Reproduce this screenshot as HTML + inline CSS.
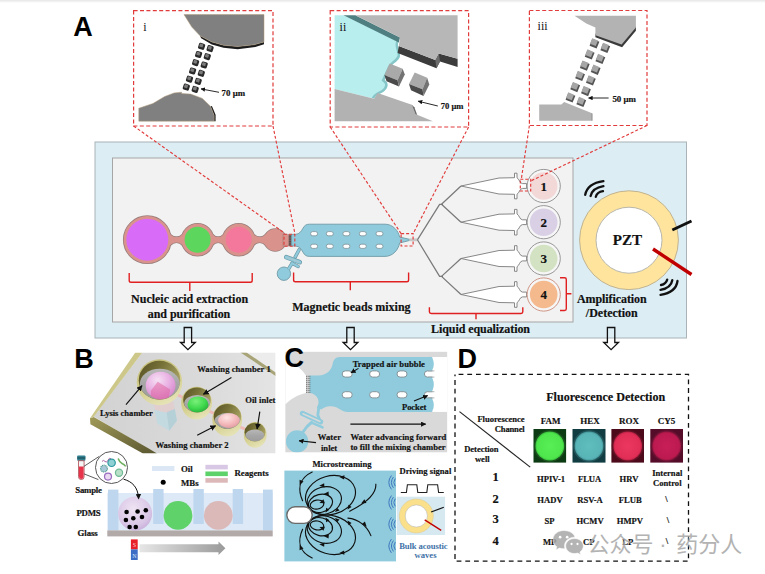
<!DOCTYPE html>
<html lang="en">
<head>
<meta charset="utf-8">
<title>Figure</title>
<style>
html,body{margin:0;padding:0;background:#fff;}
body{width:765px;height:574px;overflow:hidden;position:relative;}
svg{display:block;position:absolute;left:0;top:0;}
.sb{font-family:"Liberation Serif","Noto Serif CJK SC",serif;font-weight:bold;fill:#111;stroke:#111;stroke-width:0.18px;}
.s{font-family:"Liberation Serif","Noto Serif CJK SC",serif;fill:#111;}
.ab{font-family:"Liberation Sans","Noto Sans CJK SC",sans-serif;font-weight:bold;fill:#000;}
.wm{font-family:"Liberation Sans","Noto Sans CJK SC",sans-serif;}
</style>
</head>
<body>
<svg width="765" height="574" viewBox="0 0 765 574">
<defs>
<linearGradient id="topfade" x1="0" y1="0" x2="0" y2="1"><stop offset="0" stop-color="#e6e6e6"/><stop offset="1" stop-color="#ffffff"/></linearGradient>
<marker id="ah" viewBox="0 0 10 10" refX="9" refY="5" markerWidth="5" markerHeight="5" orient="auto-start-reverse"><path d="M0,0 L10,5 L0,10 z" fill="#111"/></marker>
<marker id="ah2" viewBox="0 0 10 10" refX="8" refY="5" markerWidth="5.5" markerHeight="5.5" orient="auto"><path d="M0,0 L10,5 L0,10 z" fill="#111"/></marker>
</defs>
<rect x="0" y="0" width="765" height="574" fill="#ffffff"/>
<rect x="0" y="0" width="765" height="3" fill="url(#topfade)"/>

<!-- ===== PANEL A main ===== -->
<g id="panelA">
<rect x="95" y="142" width="591.5" height="196" fill="#dcedf4" stroke="#a8b4b8" stroke-width="1"/>
<rect x="112.5" y="158" width="460.5" height="164" fill="#f2f2f2" stroke="#a6a6a6" stroke-width="1"/>
<!-- extraction chambers -->
<g stroke="#9a7f7c" stroke-width="1.6" fill="#d9938c">
<rect x="147" y="237.4" width="128" height="4.8"/>
<path d="M170.0,234.3 Q176.4,240.4 182.9,234.3 L182.9,245.3 Q176.4,239.2 170.0,245.3 Z M212.3,234.3 Q218.1,240.4 224.0,234.3 L224.0,245.3 Q218.1,239.2 212.3,245.3 Z M253.4,234.3 Q259.7,240.4 266.0,234.3 L266.0,245.3 Q259.7,239.2 253.4,245.3 Z"/>
<circle cx="147.3" cy="239.7" r="23.6"/>
<circle cx="197.6" cy="239.8" r="16"/>
<circle cx="238.7" cy="239.8" r="16"/>
<circle cx="275.2" cy="240" r="11"/>
</g>
<g fill="#d9938c">
<rect x="147" y="237.4" width="128" height="4.8"/>
<path d="M170.0,234.3 Q176.4,240.4 182.9,234.3 L182.9,245.3 Q176.4,239.2 170.0,245.3 Z M212.3,234.3 Q218.1,240.4 224.0,234.3 L224.0,245.3 Q218.1,239.2 212.3,245.3 Z M253.4,234.3 Q259.7,240.4 266.0,234.3 L266.0,245.3 Q259.7,239.2 253.4,245.3 Z"/>
<circle cx="147.3" cy="239.7" r="23.6"/>
<circle cx="197.6" cy="239.8" r="16"/>
<circle cx="238.7" cy="239.8" r="16"/>
<circle cx="275.2" cy="240" r="11"/>
</g>
<circle cx="147.3" cy="239.7" r="21" fill="#d86cf8"/>
<circle cx="197.6" cy="239.8" r="13" fill="#5cd65c"/>
<circle cx="238.7" cy="239.8" r="13" fill="#f4789c"/>
<!-- bead column between chamber 4 and mixing chamber -->
<path d="M283,234.2 L288.9,234.4 L288.9,246.1 L283,246.2 Z" fill="#d9938c" stroke="#9a7f7c" stroke-width="0.6"/>
<rect x="288.8" y="234.4" width="2.9" height="11.7" fill="#7c5e5c"/>
<g stroke="#4a3a3a" stroke-width="0.5"><line x1="288.8" y1="236.8" x2="291.7" y2="236.8"/><line x1="288.8" y1="239.2" x2="291.7" y2="239.2"/><line x1="288.8" y1="241.6" x2="291.7" y2="241.6"/><line x1="288.8" y1="244" x2="291.7" y2="244"/></g>
<!-- water inlet + serpentine -->
<g fill="none" stroke="#6f9aa6" stroke-linecap="round" stroke-linejoin="round">
<path d="M299,250 L295.3,256.8" stroke-width="3.6"/><path d="M286.2,257.2 L299.8,262.2" stroke-width="4.6"/><path d="M292,263.2 L298.2,266.5" stroke-width="3.4"/><path d="M292,263.4 L288.8,268.6" stroke-width="3.6"/>
</g>
<circle cx="283.9" cy="273.7" r="6.7" fill="#8fcbdc" stroke="#6f9aa6" stroke-width="0.9"/>
<g fill="none" stroke="#8fcbdc" stroke-linecap="round" stroke-linejoin="round">
<path d="M299,250 L295.3,256.8" stroke-width="2.2"/><path d="M286.2,257.2 L299.8,262.2" stroke-width="3.2"/><path d="M292,263.2 L298.2,266.5" stroke-width="2"/><path d="M292,263.4 L288.8,268.6" stroke-width="2.2"/>
</g>
<path d="M287,257.5 L299,261.9" stroke="#b8c4c8" stroke-width="0.8" stroke-linecap="round"/>
<!-- mixing chamber -->
<path d="M291.6,234.4 L295.5,234.4 C299.5,234.2 301.5,231 303,228.2 C304.5,225.5 306,224.2 309.5,224.2 L385,224.2 C393,224.2 398.5,231 399.6,237 L409.4,239.3 L409.4,240.5 L399.6,243 C398.5,249.5 393,256.4 385,256.4 L309.5,256.4 C306,256.4 304.5,255 303,252.2 C301.5,249.5 299.5,246.2 295.5,246 L291.6,246 Z" fill="#8fcbdc" stroke="#6f9aa6" stroke-width="0.9"/>
<g fill="#ffffff" stroke="#7d8f96" stroke-width="0.8">
<rect x="310.6" y="231.6" width="7" height="4.2" rx="2.1"/><rect x="326.3" y="231.6" width="7" height="4.2" rx="2.1"/><rect x="342.9" y="231.6" width="7" height="4.2" rx="2.1"/><rect x="359.3" y="231.6" width="7" height="4.2" rx="2.1"/><rect x="376" y="231.6" width="7" height="4.2" rx="2.1"/>
<rect x="310.6" y="244.2" width="7" height="4.2" rx="2.1"/><rect x="326.3" y="244.2" width="7" height="4.2" rx="2.1"/><rect x="342.9" y="244.2" width="7" height="4.2" rx="2.1"/><rect x="359.3" y="244.2" width="7" height="4.2" rx="2.1"/><rect x="376" y="244.2" width="7" height="4.2" rx="2.1"/>
</g>
<!-- outlet stub -->
<rect x="409.4" y="238.4" width="8" height="2.8" fill="#c8c8c8"/>
<!-- distribution tree -->
<g fill="none" stroke="#7a7a7a" stroke-width="1.25" stroke-linejoin="round">
<path d="M417.4,239.8 L439.6,204.3 L443,204.3 M417.4,239.8 L439.6,276.4 L443,276.4"/>
<path d="M441.5,204.3 L461,186 M441.5,204.3 L461,222.2 M441.5,276.4 L461,258.5 M441.5,276.4 L461,294.5"/>
</g>
<g fill="#ffffff" stroke="#7a7a7a" stroke-width="0.9" stroke-linejoin="round">
<path id="tear" d="M461,0 L499,-8 L514.5,-8.3 L514.5,-12.8 L517,-12.8 L517,-8.2 C519.5,-7 519.5,-2.6 522.5,-2.4 L526.6,-2.4 L526.6,2.4 L522.5,2.4 C519.5,2.6 519.5,7 517,8.2 L517,12.8 L514.5,12.8 L514.5,8.3 L499,8 Z" transform="translate(0,186)"/>
<use href="#tear" y="36.2"/>
<use href="#tear" y="72.5"/>
<use href="#tear" y="108.5"/>
</g>
<!-- detection wells -->
<g stroke="#8c8c8c" stroke-width="0.9" fill="#f6f6f6">
<circle cx="543.7" cy="186" r="16.6"/><circle cx="543.7" cy="222.2" r="16.6"/><circle cx="543.7" cy="258.5" r="16.6"/><circle cx="543.7" cy="294.5" r="16.6" stroke="#c98a78"/>
</g>
<circle cx="543.7" cy="186" r="13.8" fill="#f3d8d8"/>
<circle cx="543.7" cy="222.2" r="13.8" fill="#d9d0e6"/>
<circle cx="543.7" cy="258.5" r="13.8" fill="#d3e2c3"/>
<circle cx="543.7" cy="294.5" r="13.8" fill="#f5b98e"/>
<g class="sb" font-size="13" text-anchor="middle">
<text x="543.7" y="190.6">1</text><text x="543.7" y="226.8">2</text><text x="543.7" y="263.1">3</text><text x="543.7" y="299.1">4</text>
</g>
<!-- PZT -->
<circle cx="629" cy="240.2" r="49.4" fill="#ffe49e" stroke="#b9ad8c" stroke-width="0.9"/>
<circle cx="629" cy="240.2" r="33" fill="#ffffff" stroke="#b0b0a8" stroke-width="0.9"/>
<text class="sb" x="627.5" y="244.8" font-size="15" text-anchor="middle" textLength="29.4" lengthAdjust="spacingAndGlyphs">PZT</text>
<line x1="672.3" y1="230" x2="691.5" y2="221" stroke="#111" stroke-width="3"/>
<line x1="653" y1="249" x2="691.5" y2="274.5" stroke="#c00000" stroke-width="3.4"/>
<g fill="none" stroke="#111" stroke-width="2.3" stroke-linecap="round">
<path d="M585.2,194.8 Q587.5,183.5 603.4,181.2"/><path d="M590.6,196 Q592.5,188 603.4,186.2"/><path d="M595.8,196.8 Q597,192 603,191.1"/>
<path d="M677.5,281 Q676,292.5 660.5,294.8"/><path d="M672.3,280.2 Q671,288 660.5,289.8"/><path d="M667.2,279.6 Q666,284 661,285"/>
</g>
<!-- red brackets -->
<g fill="none" stroke="#e02020" stroke-width="1.4" stroke-linejoin="round">
<path d="M129.2,273 L129.2,280.5 Q129.2,282.3 131,282.3 L250.4,282.3 Q252.2,282.3 252.2,280.5 L252.2,273 M189.8,282.3 L189.8,291"/>
<path d="M293.6,272.6 L293.6,280 Q293.6,281.8 295.4,281.8 L406.8,281.8 Q408.6,281.8 408.6,280 L408.6,272.6 M350.3,281.8 L350.3,290.2"/>
<path d="M429.4,307.2 L429.4,311.8 Q429.4,313.5 431.2,313.5 L521,313.5 Q522.8,313.5 522.8,311.8 L522.8,307.2 M476,313.5 L476,319.2"/>
<path d="M560,277.8 L564.6,277.8 Q566.3,277.8 566.3,279.5 L566.3,308.8 Q566.3,310.5 564.6,310.5 L560,310.5 M566.3,293.8 L571.4,293.8"/>
</g>
<!-- labels -->
<g class="sb" font-size="12" text-anchor="middle" lengthAdjust="spacingAndGlyphs">
<text x="189.6" y="303.3" textLength="117">Nucleic acid extraction</text>
<text x="189" y="317.6" textLength="82.6">and purification</text>
<text x="351.4" y="310.8" textLength="118.3">Magnetic beads mixing</text>
<text x="480.5" y="332.6" textLength="99">Liquid equalization</text>
<text x="611.8" y="303.3" textLength="69.8">Amplification</text>
<text x="611.8" y="316.7" textLength="52">/Detection</text>
</g>
<!-- small dashed boxes + connector lines -->
<g fill="none" stroke="#e23b3b" stroke-width="1.15" stroke-dasharray="3 2">
<rect x="284" y="234.2" width="10.8" height="12"/>
<rect x="401.1" y="233.6" width="12" height="12.4"/>
<rect x="520.3" y="179.2" width="10.4" height="11.8"/>
<path d="M133.6,126 L284.4,233 M273,126 L294.8,233"/>
<path d="M330.2,127 L401.1,233.6 M468.6,127 L413.1,233.6"/>
<path d="M529.4,125.5 L521.3,179.2 M647,125.5 L530.7,181"/>
</g>
<!-- hollow arrows -->
<g fill="none" stroke="#111" stroke-width="1.3" stroke-linejoin="miter">
<path id="harr" d="M-3.7,0 L-3.7,15 L-7.4,15 L0,22.2 L7.4,15 L3.7,15 L3.7,0 Z" transform="translate(187.9,327.5)"/>
<use href="#harr" x="162.6"/>
<use href="#harr" x="423.2"/>
</g>

</g>

<!--A-BOXES-START-->
<g id="boxes">
<g fill="#ffffff" stroke="#e23b3b" stroke-width="1.2" stroke-dasharray="4 2.4">
<rect x="133.6" y="10.6" width="139.4" height="115.4"/>
<rect x="330.2" y="10.6" width="138.4" height="116.4"/>
<rect x="529.4" y="10.5" width="117.6" height="115"/>
</g>
<g id="box-i">
<path d="M264.0,41.9 L254.1,44.7 L237.6,46.6 L223.5,45.2 L211.8,41.9 L200.0,35.8 L201.2,38.2 L211.8,44.4 L223.5,47.7 L237.6,49.2 L255.3,47 L264.0,44.2 Z" fill="#1c1c1c"/>
<path d="M184.0,14.6 L264.0,14.6 L264.0,41.9 L254.1,44.7 L237.6,46.6 L223.5,45.2 L211.8,41.9 L200.0,35.8 L191.8,27.1 Z" fill="#808080" stroke="#b09a78" stroke-width="0.5"/>
<path d="M210.6,106.4 L214.1,115.3 L214.1,121.2 L215.6,121.2 L215.6,114.8 L211.9,105.9 Z" fill="#1c1c1c"/>
<path d="M138.8,108.2 L152.9,103.5 L164.7,96.5 L174.1,92.9 L181.6,92.2 L181.6,93.6 L190.6,94.1 L202.4,98.4 L210.6,106.4 L214.1,115.3 L214.1,121.2 L138.8,121.2 Z" fill="#808080" stroke="#b09a78" stroke-width="0.5"/>
<g transform="translate(201.6,46.3) rotate(18)"><rect x="-3.2" y="-3.1" width="6.4" height="6.2" rx="1.4" fill="#2a2a2a"/><rect x="-2.3" y="-2.4" width="3.5" height="3.3" rx="0.6" fill="#7c7c7c"/></g>
<g transform="translate(198.6,54.5) rotate(18)"><rect x="-3.2" y="-3.1" width="6.4" height="6.2" rx="1.4" fill="#2a2a2a"/><rect x="-2.3" y="-2.4" width="3.5" height="3.3" rx="0.6" fill="#7c7c7c"/></g>
<g transform="translate(195.6,62.7) rotate(18)"><rect x="-3.2" y="-3.1" width="6.4" height="6.2" rx="1.4" fill="#2a2a2a"/><rect x="-2.3" y="-2.4" width="3.5" height="3.3" rx="0.6" fill="#7c7c7c"/></g>
<g transform="translate(192.6,71) rotate(18)"><rect x="-3.2" y="-3.1" width="6.4" height="6.2" rx="1.4" fill="#2a2a2a"/><rect x="-2.3" y="-2.4" width="3.5" height="3.3" rx="0.6" fill="#7c7c7c"/></g>
<g transform="translate(189.5,79.2) rotate(18)"><rect x="-3.2" y="-3.1" width="6.4" height="6.2" rx="1.4" fill="#2a2a2a"/><rect x="-2.3" y="-2.4" width="3.5" height="3.3" rx="0.6" fill="#7c7c7c"/></g>
<g transform="translate(186.3,87.1) rotate(18)"><rect x="-3.2" y="-3.1" width="6.4" height="6.2" rx="1.4" fill="#2a2a2a"/><rect x="-2.3" y="-2.4" width="3.5" height="3.3" rx="0.6" fill="#7c7c7c"/></g>
<g transform="translate(210.1,48.6) rotate(18)"><rect x="-3.2" y="-3.1" width="6.4" height="6.2" rx="1.4" fill="#2a2a2a"/><rect x="-2.3" y="-2.4" width="3.5" height="3.3" rx="0.6" fill="#7c7c7c"/></g>
<g transform="translate(207.3,56.7) rotate(18)"><rect x="-3.2" y="-3.1" width="6.4" height="6.2" rx="1.4" fill="#2a2a2a"/><rect x="-2.3" y="-2.4" width="3.5" height="3.3" rx="0.6" fill="#7c7c7c"/></g>
<g transform="translate(204.2,65) rotate(18)"><rect x="-3.2" y="-3.1" width="6.4" height="6.2" rx="1.4" fill="#2a2a2a"/><rect x="-2.3" y="-2.4" width="3.5" height="3.3" rx="0.6" fill="#7c7c7c"/></g>
<g transform="translate(201.3,73.3) rotate(18)"><rect x="-3.2" y="-3.1" width="6.4" height="6.2" rx="1.4" fill="#2a2a2a"/><rect x="-2.3" y="-2.4" width="3.5" height="3.3" rx="0.6" fill="#7c7c7c"/></g>
<g transform="translate(198.2,81.4) rotate(18)"><rect x="-3.2" y="-3.1" width="6.4" height="6.2" rx="1.4" fill="#2a2a2a"/><rect x="-2.3" y="-2.4" width="3.5" height="3.3" rx="0.6" fill="#7c7c7c"/></g>
<g transform="translate(195.2,89.4) rotate(18)"><rect x="-3.2" y="-3.1" width="6.4" height="6.2" rx="1.4" fill="#2a2a2a"/><rect x="-2.3" y="-2.4" width="3.5" height="3.3" rx="0.6" fill="#7c7c7c"/></g>
<line x1="219" y1="92.3" x2="201" y2="88.9" stroke="#111" stroke-width="0.9" marker-end="url(#ah)"/>
<text class="sb" x="221.6" y="96.4" font-size="8.8" textLength="23.5" lengthAdjust="spacingAndGlyphs">70 μm</text>
<text class="s" x="143.2" y="30.6" font-size="12">i</text>
</g>
<g id="box-ii">
<clipPath id="cyclip"><path d="M334.6,15.3 L343.5,15.3 L398.8,41.2 C396,46 401,52 400,56 C399,61 393,63 390.6,67 L384.7,80 C389,83 388.5,88 383.5,91.8 C380,94 376,94.5 374.1,98.8 L334.6,88.9 Z"/></clipPath>
<path d="M334.6,15.3 L343.5,15.3 L398.8,41.2 C396,46 401,52 400,56 C399,61 393,63 390.6,67 L384.7,80 C389,83 388.5,88 383.5,91.8 C380,94 376,94.5 374.1,98.8 L334.6,88.9 Z" fill="#b9eeee"/>
<path d="M398.8,41.2 C396,46 401,52 400,56 C399,61 393,63 390.6,67 L384.7,80 C389,83 388.5,88 383.5,91.8 C380,94 376,94.5 374.1,98.8" fill="none" stroke="#86c6c8" stroke-width="5" clip-path="url(#cyclip)"/>
<path d="M343.5,15.3 L355.3,15.3 L400.0,37.6 L398.8,42.4 Z" fill="#4f7f80"/>
<path d="M398.8,45.9 L435.3,60.0 L438.8,53.6 L457.6,58.8 L457.6,67.1 L440.0,61.6 L436.5,68.2 L397.6,52.9 Z" fill="#3c3c3c"/>
<path d="M435.3,60.0 L438.8,53.6 L440,61.6 L436.5,68.2 Z" fill="#6c6c6c"/>
<path d="M355.3,15.3 L457.6,15.3 L457.6,58.8 L438.8,53.6 L435.3,60.0 L398.8,45.9 L400.0,37.6 Z" fill="#b7b7b7"/>
<path d="M334.6,88.9 L374.1,98.8 L377.6,92.9 L411.8,104.7 L415.3,114.1 L432.9,121.2 L334.6,121.2 Z" fill="#b2b2b2"/>
<path d="M411.8,104.7 L414.4,107.3 L417.2,115 L415.3,114.1 Z" fill="#6a6a6a"/>
<path d="M384.4,75.1 L389.6,63.6 L402.7,68.8 L397.5,80.3 Z" fill="#a9a9a9"/><path d="M384.4,75.1 L397.5,80.3 L399,86.6 L386.5,81.3 Z" fill="#4a4a4a"/><path d="M397.5,80.3 L402.7,68.8 L404.8,74.6 L399,86.6 Z" fill="#737373"/>
<path d="M409,84 L414.7,72.5 L427.2,77.7 L422.5,89.2 Z" fill="#a9a9a9"/><path d="M409,84 L422.5,89.2 L423.6,96 L411,90.2 Z" fill="#4a4a4a"/><path d="M422.5,89.2 L427.2,77.7 L429.3,84.5 L423.6,96 Z" fill="#737373"/>
<line x1="437.8" y1="106" x2="418.2" y2="101.2" stroke="#111" stroke-width="0.9" marker-end="url(#ah)"/>
<text class="sb" x="440.7" y="109.4" font-size="8.8" textLength="22.8" lengthAdjust="spacingAndGlyphs">70 μm</text>
<text class="s" x="339.6" y="30.6" font-size="12">ii</text>
</g>
<g id="box-iii">
<path d="M595.4,33.5 L621.6,43.1 L635.9,26.1 L635.9,30.8 L622.1,47.3 L595.4,37.3 Z" fill="#3a3a3a"/>
<path d="M574.5,15.7 L635.9,15.7 L635.9,27.5 L621.6,44.4 L595.4,35.3 L595.4,27.5 L586.3,23.5 Z" fill="#b3b3b3"/>
<path d="M539.2,104.6 L561.4,104.6 L564.1,102.0 L591.5,112.9 L591.5,120.8 L539.2,120.8 Z" fill="#b3b3b3"/>
<path d="M591.5,112.9 L592.4,113.6 L592.4,120.8 L591.5,120.8 Z" fill="#6a6a6a"/>
<g transform="translate(594.4,43.3) rotate(22)"><rect x="-3.6" y="-3.4" width="7.6" height="7.4" fill="#555555"/><rect x="-3.9" y="-3.9" width="6.2" height="6" fill="#a6a6a6"/></g>
<g transform="translate(589.6,54.4) rotate(22)"><rect x="-3.6" y="-3.4" width="7.6" height="7.4" fill="#555555"/><rect x="-3.9" y="-3.9" width="6.2" height="6" fill="#a6a6a6"/></g>
<g transform="translate(584.7,65.6) rotate(22)"><rect x="-3.6" y="-3.4" width="7.6" height="7.4" fill="#555555"/><rect x="-3.9" y="-3.9" width="6.2" height="6" fill="#a6a6a6"/></g>
<g transform="translate(580,75.9) rotate(22)"><rect x="-3.6" y="-3.4" width="7.6" height="7.4" fill="#555555"/><rect x="-3.9" y="-3.9" width="6.2" height="6" fill="#a6a6a6"/></g>
<g transform="translate(575.1,87) rotate(22)"><rect x="-3.6" y="-3.4" width="7.6" height="7.4" fill="#555555"/><rect x="-3.9" y="-3.9" width="6.2" height="6" fill="#a6a6a6"/></g>
<g transform="translate(570.4,97.4) rotate(22)"><rect x="-3.6" y="-3.4" width="7.6" height="7.4" fill="#555555"/><rect x="-3.9" y="-3.9" width="6.2" height="6" fill="#a6a6a6"/></g>
<g transform="translate(605.2,47.8) rotate(22)"><rect x="-3.6" y="-3.4" width="7.6" height="7.4" fill="#555555"/><rect x="-3.9" y="-3.9" width="6.2" height="6" fill="#a6a6a6"/></g>
<g transform="translate(600.3,58.9) rotate(22)"><rect x="-3.6" y="-3.4" width="7.6" height="7.4" fill="#555555"/><rect x="-3.9" y="-3.9" width="6.2" height="6" fill="#a6a6a6"/></g>
<g transform="translate(595.6,69.7) rotate(22)"><rect x="-3.6" y="-3.4" width="7.6" height="7.4" fill="#555555"/><rect x="-3.9" y="-3.9" width="6.2" height="6" fill="#a6a6a6"/></g>
<g transform="translate(590.8,80.4) rotate(22)"><rect x="-3.6" y="-3.4" width="7.6" height="7.4" fill="#555555"/><rect x="-3.9" y="-3.9" width="6.2" height="6" fill="#a6a6a6"/></g>
<g transform="translate(585.9,91) rotate(22)"><rect x="-3.6" y="-3.4" width="7.6" height="7.4" fill="#555555"/><rect x="-3.9" y="-3.9" width="6.2" height="6" fill="#a6a6a6"/></g>
<g transform="translate(581.2,101.9) rotate(22)"><rect x="-3.6" y="-3.4" width="7.6" height="7.4" fill="#555555"/><rect x="-3.9" y="-3.9" width="6.2" height="6" fill="#a6a6a6"/></g>
<line x1="608.6" y1="98" x2="588.6" y2="98" stroke="#111" stroke-width="0.9" marker-end="url(#ah)"/>
<text class="sb" x="612.4" y="102" font-size="8.8" textLength="23.6" lengthAdjust="spacingAndGlyphs">50 μm</text>
<text class="s" x="537.6" y="30.2" font-size="12">iii</text>
</g>
</g>
<!--A-BOXES-END-->

<!--PANEL-B-START-->
<g id="panelB">
<defs>
<clipPath id="bclip"><rect x="88" y="352.4" width="187.6" height="101"/></clipPath>
<linearGradient id="slab" x1="0" y1="0" x2="1" y2="0"><stop offset="0" stop-color="#d2d2d2"/><stop offset="0.6" stop-color="#dadada"/><stop offset="1" stop-color="#e4e4e4"/></linearGradient>
<linearGradient id="olive" x1="0" y1="0" x2="1" y2="0.5"><stop offset="0" stop-color="#565024"/><stop offset="0.5" stop-color="#777238"/><stop offset="1" stop-color="#a8a264"/></linearGradient>
<linearGradient id="khaki" x1="0.2" y1="0" x2="0.6" y2="1"><stop offset="0" stop-color="#c4bd78"/><stop offset="0.6" stop-color="#d6d192"/><stop offset="1" stop-color="#e6e3b8"/></linearGradient>
<linearGradient id="floor" x1="0" y1="0" x2="0" y2="1"><stop offset="0" stop-color="#b8b8b8"/><stop offset="0.5" stop-color="#a6a6a6"/><stop offset="1" stop-color="#9c9c9c"/></linearGradient>
<linearGradient id="front" x1="0" y1="0" x2="1" y2="1"><stop offset="0" stop-color="#a09a58"/><stop offset="1" stop-color="#5a5630"/></linearGradient>
<radialGradient id="sphM" cx="0.4" cy="0.3" r="0.75"><stop offset="0" stop-color="#f6e0f4"/><stop offset="0.55" stop-color="#e8aee2"/><stop offset="1" stop-color="#d484c8"/></radialGradient>
<radialGradient id="sphG" cx="0.4" cy="0.3" r="0.75"><stop offset="0" stop-color="#7af07a"/><stop offset="0.6" stop-color="#3ed84c"/><stop offset="1" stop-color="#28a838"/></radialGradient>
<radialGradient id="sphP" cx="0.4" cy="0.3" r="0.75"><stop offset="0" stop-color="#fde4e4"/><stop offset="0.6" stop-color="#f4b8ba"/><stop offset="1" stop-color="#e09a9e"/></radialGradient>
<radialGradient id="sphV" cx="0.45" cy="0.35" r="0.7"><stop offset="0" stop-color="#efe4f3"/><stop offset="0.7" stop-color="#d9c6e6"/><stop offset="1" stop-color="#c6acd8"/></radialGradient>
<linearGradient id="garr" x1="0" y1="0" x2="1" y2="0"><stop offset="0" stop-color="#e6e6e6"/><stop offset="1" stop-color="#9a9a9a"/></linearGradient>
</defs>
<g clip-path="url(#bclip)">
<!-- background beyond slab (upper right) -->
<path d="M240,352.4 L275.6,352.4 L275.6,380 Z" fill="#ececec"/>
<!-- slab top face -->
<path d="M142.1,352.4 L245,352.4 L275.6,374 L275.6,453.4 L156,453.4 L93.6,416.6 Z" fill="url(#slab)"/>
<!-- right olive edge -->
<path d="M240.5,352.4 L246.5,352.4 L275.6,372.4 L275.6,376 Z" fill="#a8a478"/>
<!-- left light strip -->
<path d="M135.3,352.4 L142.3,352.4 L93.8,416.8 L90,418.2 Z" fill="#cdc88a"/>
<!-- front dark band -->
<path d="M90,418.2 L93.8,417.1 L149.1,448.8 L157,453.4 L143,453.4 L90.4,424.2 Z" fill="url(#front)"/>
<!-- pink channels between chambers -->
<g stroke="#f2b4b0" stroke-width="3" opacity="0.85"><line x1="176" y1="394" x2="186" y2="399"/><line x1="207" y1="410" x2="218" y2="415.5"/><line x1="238" y1="426" x2="247" y2="430"/></g>
<!-- translucent pillar -->
<path d="M152.9,403 L173.1,401 L176.9,420.7 L169.2,430.7 L157.3,423.6 Z" fill="#c4dae1"/>
<path d="M166.5,411 L174.8,408.5 L176.9,420.7 L169.2,430.7 Z" fill="#b6d0d8"/>
<path d="M152.9,403 L173.1,401 L174.8,409 L166,412.5 L155,410 Z" fill="#e6cccc" opacity="0.85"/>
<!-- chambers -->
<clipPath id="hc-ly"><ellipse cx="159.5" cy="380.2" rx="20.8" ry="19.5"/></clipPath>
<ellipse cx="159.5" cy="382.3" rx="22.7" ry="23" fill="url(#khaki)"/>
<ellipse cx="159.5" cy="380.2" rx="20.8" ry="19.5" fill="url(#olive)"/>
<g clip-path="url(#hc-ly)">
<ellipse cx="159.8" cy="384.1" rx="20" ry="15.4" fill="url(#floor)"/>
<ellipse cx="160.6" cy="385.4" rx="14.9" ry="13.6" fill="url(#sphM)"/>
<path d="M157.7,381.8 L170.2,389.6 L168.7,398 L159,401 L150.9,395.9 L150.9,390.7 Z" fill="#e0609c" opacity="0.5"/>
</g>
<clipPath id="hc-w1"><ellipse cx="197.0" cy="399.9" rx="13.8" ry="12.5"/></clipPath>
<ellipse cx="196.6" cy="403.1" rx="15.4" ry="16.4" fill="url(#khaki)"/>
<ellipse cx="197.0" cy="399.9" rx="13.8" ry="12.5" fill="url(#olive)"/>
<g clip-path="url(#hc-w1)">
<ellipse cx="197.2" cy="403.6" rx="13" ry="8.7" fill="url(#floor)"/>
<ellipse cx="198" cy="404.6" rx="10.5" ry="8.2" fill="url(#sphG)"/>
</g>
<clipPath id="hc-w2"><ellipse cx="227.4" cy="416.5" rx="13.7" ry="12.5"/></clipPath>
<ellipse cx="227.2" cy="419.8" rx="14.9" ry="16.6" fill="url(#khaki)"/>
<ellipse cx="227.4" cy="416.5" rx="13.7" ry="12.5" fill="url(#olive)"/>
<g clip-path="url(#hc-w2)">
<ellipse cx="227.4" cy="421" rx="13" ry="7.9" fill="url(#floor)"/>
<ellipse cx="228.9" cy="420.6" rx="10.8" ry="7.4" fill="url(#sphP)"/>
</g>
<clipPath id="hc-oi"><ellipse cx="255" cy="432.2" rx="10.4" ry="9.4"/></clipPath>
<ellipse cx="255.2" cy="434.9" rx="11.4" ry="12.8" fill="url(#khaki)"/>
<ellipse cx="255" cy="432.2" rx="10.4" ry="9.4" fill="url(#olive)"/>
<g clip-path="url(#hc-oi)">
<ellipse cx="254.8" cy="435.5" rx="9.6" ry="6" fill="url(#floor)"/>
</g>
</g>
<!-- labels + arrows -->
<g stroke="#111" stroke-width="1.15" fill="none">
<line x1="126" y1="404.7" x2="142" y2="385.6" marker-end="url(#ah)"/>
<line x1="231.4" y1="377.5" x2="203.4" y2="394.3" marker-end="url(#ah)"/>
<line x1="197.2" y1="435.2" x2="215.6" y2="425.8" marker-end="url(#ah)"/>
<line x1="259.8" y1="411.7" x2="257.1" y2="429" marker-end="url(#ah)"/>
</g>
<g class="sb" font-size="8.6" lengthAdjust="spacingAndGlyphs">
<text x="197.2" y="371.5" textLength="73.6">Washing chamber 1</text>
<text x="99.9" y="415.9" textLength="53">Lysis chamber</text>
<text x="155.4" y="447.5" textLength="73.2">Washing chamber 2</text>
<text x="245.2" y="402.6" textLength="30.2">Oil inlet</text>
</g>

<!-- ===== lower schematic ===== -->
<!-- sample tube -->
<rect x="77.2" y="455.5" width="8.2" height="5.2" rx="0.8" fill="#2f7f8f"/>
<rect x="77.2" y="457.4" width="8.2" height="1.2" fill="#1d4f5a"/>
<path d="M78.5,460.7 L84.1,460.7 L84.1,476.8 A2.8,2.8 0 0 1 78.5,476.8 Z" fill="#f4f4f4" stroke="#a03038" stroke-width="0.7"/>
<path d="M79,466.6 L83.6,466.6 L83.6,476.8 A2.3,2.3 0 0 1 79,476.8 Z" fill="#e8344a"/>
<!-- magnifier -->
<line x1="83.9" y1="466.4" x2="99.2" y2="456.4" stroke="#333" stroke-width="0.8"/>
<line x1="83.9" y1="473.8" x2="98.4" y2="479.6" stroke="#333" stroke-width="0.8"/>
<circle cx="111.5" cy="467.5" r="16" fill="#ffffff" stroke="#444" stroke-width="0.9"/>
<path d="M102,461.4 q1.5,-2 3,0 t3,-1.2 t3,-1.4" fill="none" stroke="#b064a8" stroke-width="1"/>
<circle cx="111.6" cy="462.8" r="3.7" fill="#8fd0d4" stroke="#2f9aa0" stroke-width="1.2"/>
<circle cx="104" cy="468.6" r="3.4" fill="#a8c8d8" stroke="#4f9a8c" stroke-width="1.2" stroke-dasharray="1 0.7"/>
<circle cx="119" cy="472.8" r="3.6" fill="#b8e0c8" stroke="#6fba94" stroke-width="1.2"/>
<circle cx="108" cy="476.6" r="3.5" fill="#ead8f0" stroke="#9a6cc0" stroke-width="1.2"/>
<path d="M118.4,459 q1.2,3.4 3.6,4.4 t3.2,2.4" fill="none" stroke="#6fb060" stroke-width="1.6" stroke-linecap="round"/>
<!-- legend -->
<rect x="152" y="466" width="22.4" height="5" fill="#dbe7f4"/>
<circle cx="163.2" cy="482.2" r="2.5" fill="#000"/>
<rect x="205.4" y="464.8" width="22.4" height="4.6" fill="#d8c8e6"/>
<rect x="205.4" y="471.5" width="22.4" height="4.6" fill="#5cd268"/>
<rect x="205.4" y="478.1" width="22.4" height="4.6" fill="#dcb8b8"/>
<g class="sb" font-size="8.8" lengthAdjust="spacingAndGlyphs">
<text x="181" y="472.4">Oil</text>
<text x="181" y="485.6">MBs</text>
<text x="234.4" y="475.6">Reagents</text>
<text x="75.2" y="493.4" textLength="26.8">Sample</text>
<text x="76.5" y="515.6" textLength="24.2">PDMS</text>
<text x="77.5" y="536.4" textLength="20.3">Glass</text>
</g>
<!-- PDMS channel -->
<rect x="107.3" y="493" width="165.4" height="37.4" fill="#dde9f6"/>
<g fill="#bed6ee">
<rect x="108" y="489.6" width="10.4" height="40.8"/>
<rect x="153.2" y="489" width="10.4" height="35"/>
<rect x="193.4" y="489" width="10.4" height="35"/>
<rect x="232.7" y="489" width="10.4" height="35"/>
<rect x="263" y="489.6" width="9.7" height="40.8"/>
</g>
<rect x="107.3" y="530.4" width="165.4" height="6" fill="#b2a9a9"/>
<circle cx="135.1" cy="513.6" r="17" fill="url(#sphV)"/>
<circle cx="178" cy="515.4" r="14.4" fill="#60d26a"/>
<circle cx="218.3" cy="515.4" r="14.4" fill="#dcb9b9"/>
<g fill="#000">
<circle cx="126.6" cy="512" r="2.3"/><circle cx="137.6" cy="511.5" r="2.3"/><circle cx="145.8" cy="510.3" r="2.3"/><circle cx="125.9" cy="520" r="2.3"/><circle cx="133.3" cy="518.2" r="2.3"/><circle cx="142" cy="517" r="2.3"/><circle cx="129.6" cy="527" r="2.3"/><circle cx="135.8" cy="527" r="2.3"/>
</g>
<!-- curved arrow -->
<path d="M123.6,479.2 C132,481.5 138,487 138.6,498.4" fill="none" stroke="#111" stroke-width="1" marker-end="url(#ah2)"/>
<!-- magnet -->
<rect x="130.9" y="539.4" width="6.8" height="10" fill="#e8202a"/>
<rect x="130.9" y="549.4" width="6.8" height="10.6" fill="#3c6cc4"/>
<text x="134.3" y="547.2" font-size="6" text-anchor="middle" class="s" style="fill:#f8d8d8">S</text>
<text x="134.3" y="557.6" font-size="6" text-anchor="middle" class="s" style="fill:#d8e4f8">N</text>
<!-- gray arrow -->
<path d="M139.5,544.3 L218.5,544.3 L218.5,541.6 L225.4,548.3 L218.5,555 L218.5,552.3 L139.5,552.3 Z" fill="url(#garr)"/>
</g>
<!--PANEL-B-END-->

<!--PANEL-C-START-->
<g id="panelC">
<defs>
<clipPath id="cclip"><rect x="285.2" y="351.6" width="162.2" height="101"/></clipPath>
<marker id="ahs" viewBox="0 0 10 10" refX="9" refY="5" markerWidth="4.6" markerHeight="4.6" orient="auto"><path d="M0,0 L10,5 L0,10 z" fill="#111"/></marker>
</defs>
<g clip-path="url(#cclip)">
<rect x="285.2" y="351.6" width="162.2" height="101" fill="#d9d9d9"/>
<!-- empty previous chamber (white) -->
<path d="M285.2,360.5 C293,362.5 300.5,367.5 306,375.4 L306,393 C298,394.5 291,399 285.2,404.4 Z" fill="#ffffff"/>
<!-- water filled chamber -->
<path d="M309.6,375.4 L318,375.4 C327,375.4 331.5,370 332.6,364 C333.2,360.5 335,357 340,357 L432.4,357 L432.4,411.9 L347,411.9 C340,411 338,406.2 331,406.2 C326,406.2 323.5,407.5 321.5,409.5 L316.8,408 C319.5,404 319,399 316,396 C314,394 312,393.2 309.6,393 Z" fill="#8fcbdc"/>
<!-- bead column -->
<g stroke="#444" stroke-width="0.8" stroke-dasharray="1 1"><line x1="306.6" y1="375.8" x2="306.6" y2="392.8"/><line x1="308.2" y1="375.8" x2="308.2" y2="392.8"/><line x1="309.8" y1="375.8" x2="309.8" y2="392.8"/></g>
<!-- serpentine inlet channel -->
<g fill="none" stroke-linecap="round" stroke-linejoin="round">
<path d="M319,406 L317.8,415 L320.5,422" stroke="#8fcbdc" stroke-width="2.8"/>
<path d="M302.4,413.4 L320.6,421.8" stroke="#8fcbdc" stroke-width="5.2"/>
<path d="M311.5,422.6 L322.6,427.4" stroke="#8fcbdc" stroke-width="2.4"/>
<path d="M311.5,422.4 C308.5,424.5 305.5,428 303,432" stroke="#8fcbdc" stroke-width="3"/>
<path d="M303,413.7 L320,421.5" stroke="#d9d9d9" stroke-width="1.5"/>
</g>
<circle cx="297.1" cy="441.4" r="11.1" fill="#8fcbdc"/>
<!-- air bubbles / pockets -->
<g fill="#ffffff" stroke="#87949a" stroke-width="1">
<rect x="342.2" y="370.9" width="10" height="6.2" rx="3.1"/><rect x="369.6" y="370.9" width="10" height="6.2" rx="3.1"/><rect x="397" y="370.9" width="10" height="6.2" rx="3.1"/><rect x="424.4" y="370.9" width="14" height="6.2" rx="3.1"/>
<rect x="342.2" y="391.7" width="10" height="6.2" rx="3.1"/><rect x="369.6" y="391.7" width="10" height="6.2" rx="3.1"/><rect x="397" y="391.7" width="10" height="6.2" rx="3.1"/><rect x="424.4" y="391.7" width="14" height="6.2" rx="3.1"/>
</g>
<rect x="432.4" y="357" width="15.2" height="54.9" fill="#ffffff"/>
<g fill="#8fcbdc"><ellipse cx="430" cy="364" rx="3.8" ry="7.2"/><ellipse cx="430" cy="384.4" rx="3.8" ry="7.4"/><ellipse cx="430" cy="405" rx="3.8" ry="7"/></g>
<g stroke="#9aa4a8" stroke-width="0.8"><path d="M428,370.9 L434.4,370.9 M428,377.1 L434.4,377.1 M428,391.7 L434.4,391.7 M428,397.9 L434.4,397.9"/></g>
</g>
<!-- arrows + text -->
<g stroke="#111" stroke-width="1.1" fill="none">
<line x1="358.5" y1="368.4" x2="351" y2="372.8" marker-end="url(#ahs)"/>
<line x1="414" y1="401" x2="427.6" y2="395.6" marker-end="url(#ahs)"/>
<line x1="350.4" y1="424.1" x2="425.6" y2="424.1" marker-end="url(#ahs)"/>
<line x1="316" y1="442.6" x2="299" y2="440.8" marker-end="url(#ahs)"/>
</g>
<g class="sb" font-size="8.6" lengthAdjust="spacingAndGlyphs">
<text x="352.7" y="366.9" textLength="72.2">Trapped air bubble</text>
<text x="402" y="409.7" textLength="24.4">Pocket</text>
<text x="350.4" y="439.6" textLength="95.9">Water advancing forward</text>
<text x="350.4" y="450.3" textLength="95.2">to fill the mixing chamber</text>
<text x="317.8" y="440.3" textLength="23.2">Water</text>
<text x="321" y="450.8" textLength="16.2">inlet</text>
<text x="312.4" y="467" textLength="59.2">Microstreaming</text>
<text x="399.5" y="474.4" textLength="51.8">Driving signal</text>
</g>
<!-- microstreaming panel -->
<rect x="284.4" y="470.6" width="111.6" height="90.8" fill="#8fcbdc"/>
<!--STREAM-START-->
<g fill="none" stroke="#111" stroke-width="1.15" stroke-linecap="round">
<g id="strm">
<ellipse cx="317.0" cy="504.6" rx="6.8" ry="4.5" transform="rotate(-10 317.0 504.6)"/>
<ellipse cx="320.5" cy="503.3" rx="12.2" ry="8.9" transform="rotate(-14 320.5 503.3)"/>
<ellipse cx="324.3" cy="500.5" rx="17.4" ry="13.5" transform="rotate(-16 324.3 500.5)"/>
<ellipse cx="330.5" cy="495.2" rx="25.4" ry="19.2" transform="rotate(-16 330.5 495.2)"/>
<path d="M2.5,0 L-2.5,2.125 L-2.5,-2.125 Z" transform="translate(321.8,502.1) rotate(160)" fill="#111" stroke="none"/>
<path d="M2.5,0 L-2.5,2.125 L-2.5,-2.125 Z" transform="translate(321.8,485.6) rotate(175)" fill="#111" stroke="none"/>
<path d="M2.5,0 L-2.5,2.125 L-2.5,-2.125 Z" transform="translate(326.2,493.9) rotate(175)" fill="#111" stroke="none"/>
<path d="M2.5,0 L-2.5,2.125 L-2.5,-2.125 Z" transform="translate(341.8,477.2) rotate(185)" fill="#111" stroke="none"/>
<path d="M2.2,0 L-2.2,1.87 L-2.2,-1.87 Z" transform="translate(348.8,507.7) rotate(125)" fill="#111" stroke="none"/>
<path d="M2.2,0 L-2.2,1.87 L-2.2,-1.87 Z" transform="translate(336.6,510.6) rotate(140)" fill="#111" stroke="none"/>
<path d="M2.2,0 L-2.2,1.87 L-2.2,-1.87 Z" transform="translate(326.7,510.6) rotate(120)" fill="#111" stroke="none"/>
<path d="M312.2,472.0 C297.4,478.9 298.3,491.1 302.6,500.7"/>
<path d="M2.5,0 L-2.5,2.125 L-2.5,-2.125 Z" transform="translate(300.6,482.9) rotate(112)" fill="#111" stroke="none"/>
</g>
<use href="#strm" transform="translate(0,1030.0) scale(1,-1)"/>
<path d="M375.8,484.2 C376.7,494.6 363.6,504.2 349.7,511.2"/>
<path d="M2.5,0 L-2.5,2.125 L-2.5,-2.125 Z" transform="translate(363.3,502.3) rotate(150)" fill="#111" stroke="none"/>
<path d="M347.9,518.1 C358.4,519.0 367.1,526.0 370.9,535.6"/>
<path d="M2.5,0 L-2.5,2.125 L-2.5,-2.125 Z" transform="translate(365.0,524.8) rotate(48)" fill="#111" stroke="none"/>
</g>
<!--STREAM-END-->
<rect x="286.8" y="506.8" width="25.4" height="16.6" rx="8.3" fill="#ffffff" stroke="#6a6a6a" stroke-width="1.4"/>
<!-- acoustic arcs -->
<g fill="none" stroke="#3f78c0" stroke-width="1" stroke-linecap="round">
<g id="arcs"><path d="M391.2,475.8 Q386.2,482.4 391.2,489"/><path d="M393.2,477.3 Q389.4,482.4 393.2,487.5"/><path d="M395,478.9 Q392.4,482.4 395,485.9"/></g>
<use href="#arcs" y="20.1"/><use href="#arcs" y="41.8"/><use href="#arcs" y="63.6"/>
</g>
<!-- square wave -->
<path d="M400.8,492.5 L406.4,492.5 L407.4,484.7 L416.8,484.7 L417.8,492.5 L426.8,492.5 L427.8,484.7 L437.6,484.7 L438.6,492.5 L443.8,492.5" fill="none" stroke="#222" stroke-width="1.1"/>
<!-- mini PZT -->
<rect x="396.7" y="496.7" width="48.4" height="38.3" fill="#d6e9f1"/>
<circle cx="416.3" cy="516" r="17" fill="#fbe08c" stroke="#d8c890" stroke-width="0.5"/>
<circle cx="416.3" cy="516" r="11.1" fill="#ffffff" stroke="#b8b8b0" stroke-width="0.6"/>
<line x1="431.1" y1="512" x2="443.8" y2="507.3" stroke="#111" stroke-width="1.2"/>
<line x1="424.7" y1="519.9" x2="441.2" y2="530.3" stroke="#c00000" stroke-width="1.4"/>
<g font-size="8.6" lengthAdjust="spacingAndGlyphs" font-family="'Liberation Serif',serif" font-weight="bold" fill="#3f72a8">
<text x="399.2" y="548.9" textLength="48.4">Bulk acoustic</text>
<text x="414.6" y="558" textLength="21.9">waves</text>
</g>
</g>
<!--PANEL-C-END-->

<!--PANEL-D-START-->
<g id="panelD">
<defs>
<radialGradient id="fG" cx="0.5" cy="0.5" r="0.5"><stop offset="0" stop-color="#58ee56"/><stop offset="0.88" stop-color="#4ee64c"/><stop offset="1" stop-color="#38c03c"/></radialGradient>
<radialGradient id="fC" cx="0.5" cy="0.5" r="0.5"><stop offset="0" stop-color="#60bebe"/><stop offset="0.88" stop-color="#58b4b6"/><stop offset="1" stop-color="#44969a"/></radialGradient>
<radialGradient id="fR" cx="0.5" cy="0.5" r="0.5"><stop offset="0" stop-color="#ec3860"/><stop offset="0.88" stop-color="#e02e56"/><stop offset="1" stop-color="#b82044"/></radialGradient>
<radialGradient id="fM" cx="0.5" cy="0.5" r="0.5"><stop offset="0" stop-color="#c81e58"/><stop offset="0.88" stop-color="#bc1a50"/><stop offset="1" stop-color="#9a1540"/></radialGradient>
</defs>
<rect x="455" y="374.4" width="233.5" height="186.8" fill="#ffffff" stroke="#111" stroke-width="1.3" stroke-dasharray="4.8 3.9" stroke-dashoffset="-3.6"/>
<text class="sb" x="605.7" y="401.1" font-size="12.2" text-anchor="middle" textLength="119" lengthAdjust="spacingAndGlyphs">Fluorescence Detection</text>
<line x1="459.5" y1="411.6" x2="530.2" y2="467.1" stroke="#222" stroke-width="1.15"/>
<g class="sb" font-size="8.6" lengthAdjust="spacingAndGlyphs">
<text x="524.7" y="421.8" text-anchor="end" textLength="47.3">Fluorescence</text>
<text x="524.7" y="432.2" text-anchor="end" textLength="29.9">Channel</text>
<text x="481.4" y="452.2" text-anchor="middle" textLength="34.4">Detection</text>
<text x="482.3" y="462.1" text-anchor="middle">well</text>
</g>
<g class="sb" font-size="9" text-anchor="middle">
<text x="550.6" y="424.3">FAM</text><text x="590" y="424.3">HEX</text><text x="629" y="424.3">ROX</text><text x="666.4" y="424.3">CY5</text>
</g>
<rect x="533.5" y="429" width="32.6" height="33.6" fill="#0c3a12"/>
<rect x="572.5" y="429" width="33" height="33.6" fill="#103c42"/>
<rect x="611.4" y="429" width="32.6" height="33.6" fill="#4c0a1a"/>
<rect x="650.3" y="429" width="32.7" height="33.6" fill="#540c28"/>
<circle cx="549.8" cy="446" r="16" fill="#1f5a22" opacity="0.7"/><circle cx="589" cy="446" r="16" fill="#2a5e64" opacity="0.7"/><circle cx="627.7" cy="446" r="16" fill="#6a1428" opacity="0.7"/><circle cx="666.6" cy="446" r="16" fill="#701436" opacity="0.7"/>
<circle cx="549.8" cy="446" r="14.4" fill="url(#fG)"/>
<circle cx="589" cy="446" r="14.4" fill="url(#fC)"/>
<circle cx="627.7" cy="446" r="14.4" fill="url(#fR)"/>
<circle cx="666.6" cy="446" r="14.4" fill="url(#fM)"/>
<g class="sb" font-size="12.5" text-anchor="middle">
<text x="495.6" y="481.4">1</text><text x="495.6" y="502.5">2</text><text x="495.6" y="523.4">3</text><text x="495.6" y="544.6">4</text>
</g>
<g class="sb" font-size="8.6" text-anchor="middle">
<text x="551.1" y="481.6">HPIV-1</text><text x="589.6" y="481.6">FLUA</text><text x="629" y="481.7">HRV</text>
<text x="667.3" y="475.7">Internal</text><text x="667.3" y="485.9">Control</text>
<text x="550" y="502.6">HADV</text><text x="590" y="502.6">RSV-A</text><text x="630.3" y="502.6">FLUB</text><text x="666.4" y="501.6">\</text>
<text x="549.6" y="523.6">SP</text><text x="590" y="523.6">HCMV</text><text x="629.9" y="523.6">HMPV</text><text x="668" y="522.6">\</text>
<text x="549.6" y="544.8">MP</text><text x="588.7" y="544.8">CP</text><text x="627.8" y="544.8">LP</text><text x="667" y="543.8">\</text>
</g>
</g>
<!--PANEL-D-END-->

<!--LABELS-START-->
<g class="ab" font-size="27">
<text x="73.3" y="36">A</text>
<text x="74.3" y="367.5">B</text>
<text x="284.6" y="367.3">C</text>
<text x="457.6" y="367.5">D</text>
</g>
<!--LABELS-END-->

<!--WATERMARK-START-->
<g id="watermark" opacity="0.85">
<g transform="translate(568.7,542.4) scale(1.1,1.14) translate(-568.6,-542.2)">
<g fill="#a8a8a8" stroke="#ffffff" stroke-width="0.5">
<path d="M564.2,531.8 C558.6,531.8 554.2,535.4 554.2,539.8 C554.2,542.3 555.6,544.5 557.8,546 L556.9,548.9 L560.2,547.2 C561.4,547.6 562.7,547.8 564.2,547.8 C564.5,547.8 564.9,547.8 565.2,547.7 C564.9,546.9 564.8,546.1 564.8,545.3 C564.8,541.1 568.8,537.7 573.8,537.7 C574,537.7 574.2,537.7 574.3,537.7 C573.5,534.3 569.3,531.8 564.2,531.8 Z"/>
<path d="M573.9,538.8 C569.4,538.8 565.9,541.8 565.9,545.4 C565.9,549 569.4,552 573.9,552 C574.9,552 575.9,551.8 576.8,551.6 L579.5,553 L578.8,550.7 C580.6,549.5 581.9,547.6 581.9,545.4 C581.9,541.8 578.3,538.8 573.9,538.8 Z"/>
</g>
<g fill="#ffffff"><circle cx="560.8" cy="537.6" r="1.2"/><circle cx="567.2" cy="537.6" r="1.2"/><circle cx="571.2" cy="543.6" r="1"/><circle cx="576.6" cy="543.6" r="1"/></g>
</g>
<g class="wm" font-size="22" fill="#a6a6a6" stroke="#ffffff" stroke-width="0.35" paint-order="stroke">
<text x="587.6" y="551.8">公众号</text>
<text x="659.2" y="551.8">·</text>
<text x="676.2" y="551.8">药分人</text>
</g>
</g>
<!--WATERMARK-END-->
</svg>
</body>
</html>
